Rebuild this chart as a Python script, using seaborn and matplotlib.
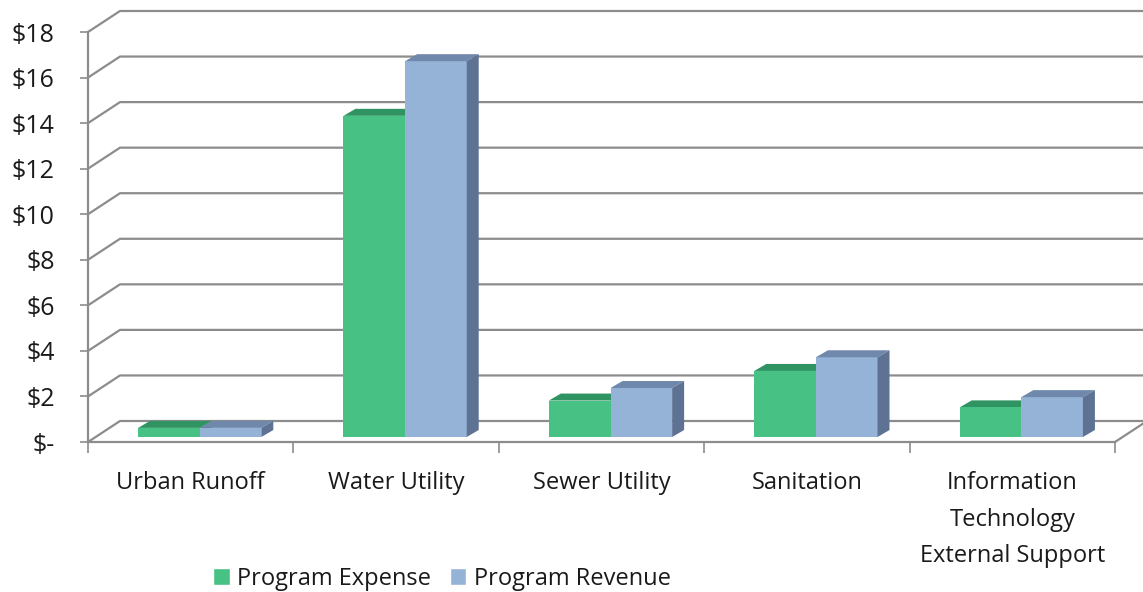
import matplotlib
matplotlib.use("Agg")
import matplotlib.pyplot as plt
import matplotlib.transforms as mtransforms
from matplotlib.patches import Polygon
from matplotlib.lines import Line2D
import seaborn as sns
import pandas as pd

# ---------------- data ----------------
categories = ["Urban Runoff", "Water Utility", "Sewer Utility", "Sanitation",
              "Information\nTechnology\nExternal Support"]
series = ["Program Expense", "Program Revenue"]
expense = [0.4, 14.1, 1.6, 2.9, 1.3]
revenue = [0.4, 16.5, 2.15, 3.5, 1.75]
yticks = [0, 2, 4, 6, 8, 10, 12, 14, 16, 18]
ytick_labels = ["$-", "$2", "$4", "$6", "$8", "$10", "$12", "$14", "$16", "$18"]

df = pd.DataFrame({
    "Category": categories * 2,
    "Series": [series[0]] * len(categories) + [series[1]] * len(categories),
    "Value": expense + revenue,
})

# ---------------- style ----------------
front_cols = {"Program Expense": "#48C284", "Program Revenue": "#95B3D7"}
top_cols = {"Program Expense": "#2F9462", "Program Revenue": "#6F88AB"}
side_cols = {"Program Expense": "#2E7D52", "Program Revenue": "#5E7393"}
grid_col = "#8C8C8C"
text_col = "#1A1A1A"
FS = 17

sns.set_theme(style="white")
plt.rcParams["font.family"] = ["Open Sans", "DejaVu Sans"]

W, H = 1143, 592
fig = plt.figure(figsize=(W / 100, H / 100), dpi=100)
left_px, right_px, bot_px, top_px = 88, 1115, 442, 32
ax = fig.add_axes([left_px / W, 1 - bot_px / H, (right_px - left_px) / W,
                   (bot_px - top_px) / H])
ax.patch.set_alpha(0)

sns.barplot(data=df, x="Category", y="Value", hue="Series",
            palette=[front_cols[s] for s in series], saturation=1,
            width=0.6, ax=ax, zorder=3)

ax.set_xlim(-0.5, len(categories) - 0.5)
ax.set_ylim(0, 18)
ax.set_xlabel("")
ax.set_ylabel("")

# depth offsets (pixels)
wall_dx, wall_dy = 32, 21
bar_shift_x, bar_shift_y = 9, 5
bar_dx, bar_dy = 12, 7

# ---- back wall gridlines / side wall (display coords) ----
ident = mtransforms.IdentityTransform()
fig.canvas.draw()
to_disp = ax.transData.transform
for yv in yticks:
    x0, y0 = to_disp((-0.5, yv))
    x1, _ = to_disp((len(categories) - 0.5, yv))
    xs = [x0, x0 + wall_dx, x1 + wall_dx + 60]
    ys = [y0, y0 + wall_dy, y0 + wall_dy]
    ax.add_artist(Line2D(xs, ys, transform=ident, color=grid_col, lw=1.6,
                         zorder=1, solid_capstyle="butt", clip_on=False))
# floor right edge
x1, y1 = to_disp((len(categories) - 0.5, 0))
ax.add_artist(Line2D([x1, x1 + wall_dx], [y1, y1 + wall_dy], transform=ident,
                     color=grid_col, lw=1.6, zorder=1, clip_on=False))

# ---- 3D bars ----
shift = mtransforms.ScaledTranslation(bar_shift_x / 100, bar_shift_y / 100,
                                      fig.dpi_scale_trans)
hue_of = {}
for cont, s in zip(ax.containers, series):
    for p in cont.patches:
        hue_of[id(p)] = s
for p in list(ax.patches):
    if id(p) not in hue_of:
        continue
    s = hue_of[id(p)]
    p.set_transform(ax.transData + shift)
    p.set_edgecolor("none")
    p.set_clip_on(False)
    x0, y0 = to_disp((p.get_x(), 0))
    x1, y1 = to_disp((p.get_x() + p.get_width(), p.get_height()))
    x0 += bar_shift_x; x1 += bar_shift_x
    y0 += bar_shift_y; y1 += bar_shift_y
    z = 2.9 if s == series[0] else 4
    top = Polygon([(x0, y1), (x1, y1), (x1 + bar_dx, y1 + bar_dy),
                   (x0 + bar_dx, y1 + bar_dy)], closed=True, transform=ident,
                  facecolor=top_cols[s], edgecolor="none", zorder=z,
                  clip_on=False)
    side = Polygon([(x1, y0), (x1, y1), (x1 + bar_dx, y1 + bar_dy),
                    (x1 + bar_dx, y0 + bar_dy)], closed=True, transform=ident,
                   facecolor=side_cols[s], edgecolor="none", zorder=z,
                   clip_on=False)
    ax.add_artist(top)
    ax.add_artist(side)

# ---- axes / ticks ----
for sp in ["top", "right"]:
    ax.spines[sp].set_visible(False)
for sp in ["left", "bottom"]:
    ax.spines[sp].set_color(grid_col)
    ax.spines[sp].set_linewidth(1.6)
    ax.spines[sp].set_zorder(2)

ax.set_yticks(yticks)
ax.set_yticklabels(ytick_labels)
ax.tick_params(axis="y", length=6, width=1.2, color=grid_col, pad=18,
               labelsize=FS + 1, labelcolor=text_col, left=True)
ax.set_xticks(range(len(categories)))
ax.set_xticklabels(categories, linespacing=1.7)
ax.set_xticks([i - 0.5 for i in range(len(categories) + 1)], minor=True)
ax.tick_params(axis="x", which="major", length=0, pad=21, labelsize=FS,
               labelcolor=text_col)
ax.tick_params(axis="x", which="minor", length=8, width=1.2, color=grid_col,
               bottom=True)
for lbl in ax.get_xticklabels():
    lbl.set_verticalalignment("top")

# ---- legend ----
handles, labels = ax.get_legend_handles_labels()
if ax.get_legend() is not None:
    ax.get_legend().remove()
fig.legend(handles, labels, loc="center", bbox_to_anchor=(442 / W, 1 - 579 / H),
           ncol=2, frameon=False, fontsize=FS, handlelength=0.7,
           handleheight=0.7, handletextpad=0.3, columnspacing=0.8,
           labelcolor=text_col)

fig.savefig("out.png", dpi=100)
